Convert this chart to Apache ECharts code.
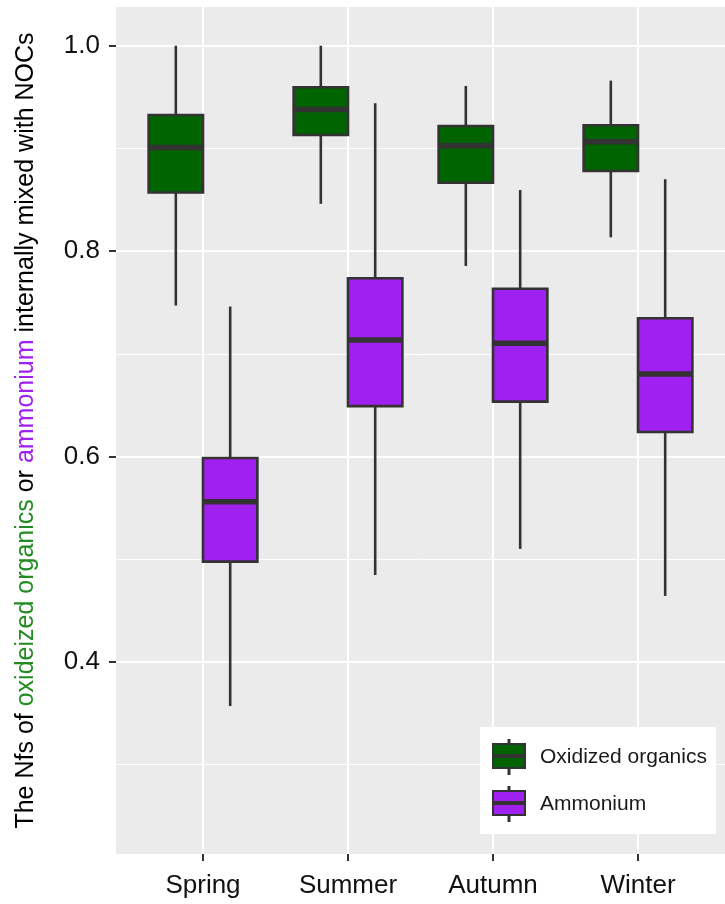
<!DOCTYPE html>
<html>
<head>
<meta charset="utf-8">
<script src="https://cdn.jsdelivr.net/npm/echarts@6/dist/echarts.min.js"></script>
<style>
html,body{margin:0;padding:0;background:#fff;}
#chart{width:725px;height:904px;}
</style>
</head>
<body>
<div id="chart"></div>
<script>
// ---- data ----
const categories = ['Spring', 'Summer', 'Autumn', 'Winter'];
// [lower whisker, Q1, median, Q3, upper whisker]
const oxidizedOrganics = [
  [0.747, 0.857, 0.901, 0.9325, 1.000],
  [0.846, 0.913, 0.938, 0.9595, 1.000],
  [0.7855, 0.8666, 0.9026, 0.9218, 0.9608],
  [0.8134, 0.878, 0.9065, 0.9225, 0.966]
];
const ammonium = [
  [0.357, 0.4976, 0.556, 0.5985, 0.746],
  [0.4846, 0.649, 0.7134, 0.7735, 0.944],
  [0.510, 0.6534, 0.7102, 0.7634, 0.8595],
  [0.4642, 0.6239, 0.6803, 0.7346, 0.870]
];
const yTicks = [0.4, 0.6, 0.8, 1.0];
const xTicks = [0, 1, 2, 3];
const seriesNames = ['Oxidized organics', 'Ammonium'];

// ---- style ----
const GREEN = '#006400';
const PURPLE = '#A020F0';
const EDGE = '#333333';
const BOX_W = 0.375;
const FONT = "'Liberation Sans', Arial, sans-serif";

function toItems(arr) {
  return arr.map((v, i) => [i].concat(v));
}

function boxRenderer(offset, fill) {
  return function (params, api) {
    const x = api.value(0);
    const lo = api.coord([x, api.value(1)])[1];
    const q1 = api.coord([x, api.value(2)])[1];
    const md = api.coord([x, api.value(3)])[1];
    const q3 = api.coord([x, api.value(4)])[1];
    const hi = api.coord([x, api.value(5)])[1];
    const cx = api.coord([x + offset, api.value(3)])[0];
    const half = api.size([BOX_W, 0])[0] / 2;
    const ls = { stroke: EDGE, lineWidth: 2.6 };
    return {
      type: 'group',
      children: [
        { type: 'line', shape: { x1: cx, y1: hi, x2: cx, y2: q3 }, style: ls },
        { type: 'line', shape: { x1: cx, y1: q1, x2: cx, y2: lo }, style: ls },
        { type: 'rect', shape: { x: cx - half, y: q3, width: half * 2, height: q1 - q3 },
          style: { fill: fill, stroke: EDGE, lineWidth: 2.6 } },
        { type: 'line', shape: { x1: cx - half, y1: md, x2: cx + half, y2: md },
          style: { stroke: EDGE, lineWidth: 5.5 } }
      ]
    };
  };
}

const ICON = 'path://M1,4 H33 V15 H1 Z M1,17 H33 V28 H1 Z M16.5,0 H17.5 V4 H16.5 Z M16.5,28 H17.5 V34 H16.5 Z';

const chart = echarts.init(document.getElementById('chart'), null, { renderer: 'canvas' });
chart.setOption({
  animation: false,
  backgroundColor: '#ffffff',
  textStyle: { fontFamily: FONT },
  grid: {
    left: 116, top: 7, width: 614, height: 847,
    show: true, backgroundColor: '#EBEBEB', borderWidth: 0,
    containLabel: false
  },
  legend: {
    orient: 'vertical',
    left: 480, top: 727,
    backgroundColor: '#ffffff',
    padding: [12, 9, 12, 12],
    itemGap: 11,
    itemWidth: 34, itemHeight: 34,
    textStyle: { fontSize: 21, color: '#1a1a1a', fontFamily: FONT, padding: [0, 0, 0, 9] },
    itemStyle: { borderColor: EDGE, borderWidth: 2 },
    data: [
      { name: seriesNames[0], icon: ICON },
      { name: seriesNames[1], icon: ICON }
    ]
  },
  xAxis: {
    type: 'value',
    min: -0.6, max: 3.6,
    axisLine: { show: false, onZero: false },
    axisTick: { show: true, customValues: xTicks, length: 7, lineStyle: { color: EDGE, width: 2 } },
    axisLabel: {
      customValues: xTicks,
      formatter: v => categories[Math.round(v)] || '',
      fontSize: 26, color: '#111', margin: 19, fontFamily: FONT
    },
    splitLine: { show: true, customValues: xTicks, lineStyle: { color: '#ffffff', width: 2 } }
  },
  yAxis: {
    type: 'value',
    min: 0.2129, max: 1.0377,
    name: '{k|The Nfs of }{g|oxideized organics}{k| or }{p|ammonium}{k| internally mixed with NOCs}',
    nameLocation: 'middle',
    nameGap: 77,
    nameTextStyle: {
      fontSize: 25, fontFamily: FONT, color: '#000',
      rich: {
        k: { fontSize: 25, fontFamily: FONT, color: '#000' },
        g: { fontSize: 25, fontFamily: FONT, color: '#228B22' },
        p: { fontSize: 25, fontFamily: FONT, color: '#A020F0' }
      }
    },
    axisLine: { show: false, onZero: false },
    axisTick: { show: true, customValues: yTicks, length: 7, lineStyle: { color: EDGE, width: 2 } },
    axisLabel: {
      customValues: yTicks,
      formatter: v => Number(v).toFixed(1),
      fontSize: 26, color: '#111', margin: 16, fontFamily: FONT
    },
    splitLine: { show: true, lineStyle: { color: '#ffffff', width: 2 } },
    minorTick: { show: false, splitNumber: 2 },
    minorSplitLine: { show: true, lineStyle: { color: '#ffffff', width: 1 } }
  },
  series: [
    {
      name: seriesNames[0],
      type: 'custom',
      renderItem: boxRenderer(-BOX_W / 2, GREEN),
      itemStyle: { color: GREEN, borderColor: EDGE, borderWidth: 2 },
      encode: { x: 0, y: [1, 2, 3, 4, 5] },
      data: toItems(oxidizedOrganics),
      z: 3
    },
    {
      name: seriesNames[1],
      type: 'custom',
      renderItem: boxRenderer(BOX_W / 2, PURPLE),
      itemStyle: { color: PURPLE, borderColor: EDGE, borderWidth: 2 },
      encode: { x: 0, y: [1, 2, 3, 4, 5] },
      data: toItems(ammonium),
      z: 3
    }
  ]
});
</script>
</body>
</html>
